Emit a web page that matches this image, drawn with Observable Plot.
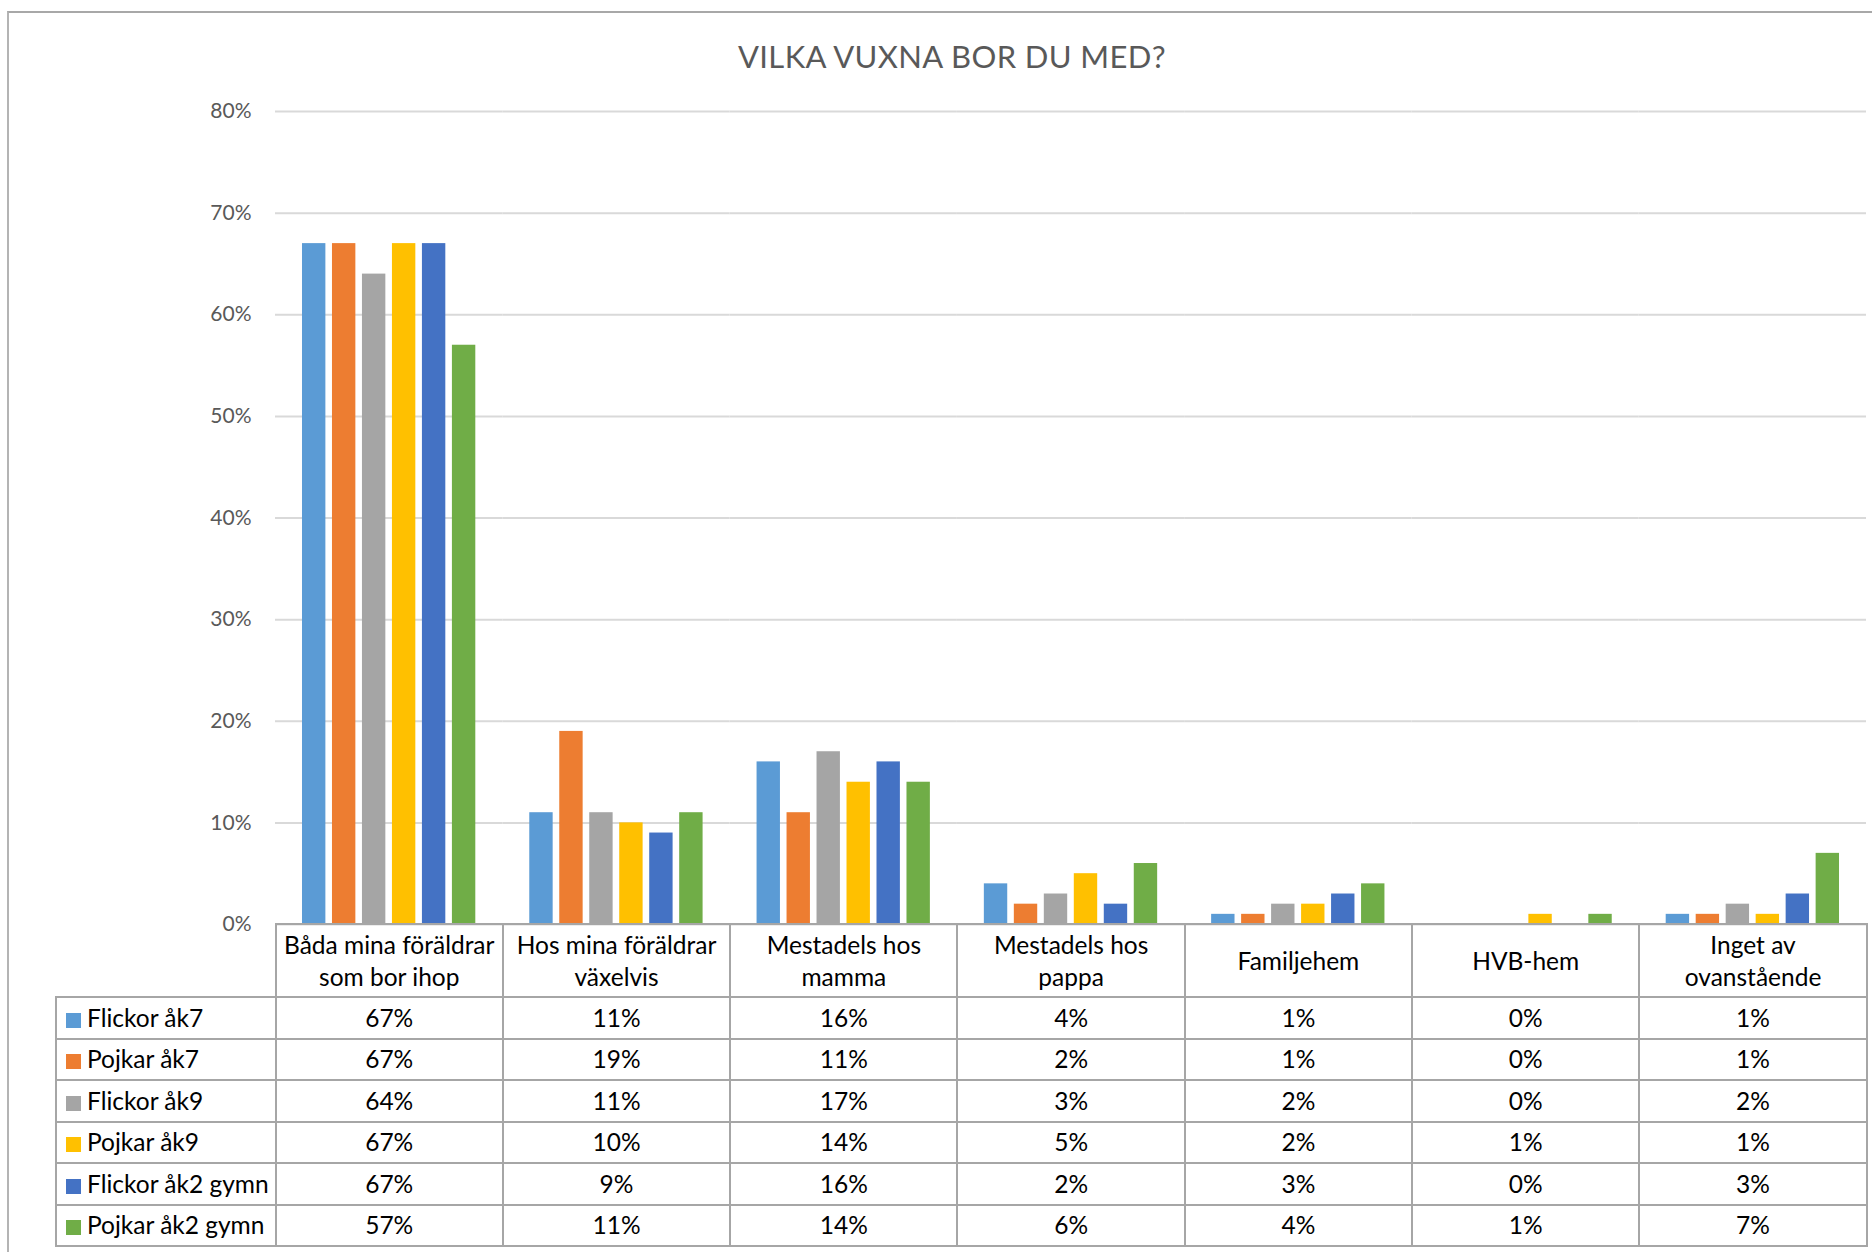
<!DOCTYPE html>
<html><head><meta charset="utf-8">
<script src="https://cdn.jsdelivr.net/npm/d3@7"></script>
<script src="https://cdn.jsdelivr.net/npm/@observablehq/plot@0.6"></script>
<style>
html,body{margin:0;padding:0;background:#fff;overflow:hidden;width:1872px;height:1252px;}
#frame{position:absolute;left:7px;top:11px;width:1900px;height:1300px;border-left:2px solid #B4B4B4;border-top:2px solid #A8A8A8;box-sizing:border-box;}
#title{position:absolute;left:552px;width:800px;top:36px;text-align:center;font-family:Lato,"Open Sans",sans-serif;font-size:31px;letter-spacing:0.4px;color:#595959;line-height:40px;}
#chart{position:absolute;left:0;top:90px;}
#tbl{position:absolute;left:55px;top:923px;border-collapse:collapse;table-layout:fixed;width:1811px;font-family:Lato,"Open Sans",sans-serif;font-size:24.5px;color:#000;}
#tbl td,#tbl th{border:2px solid #A6A6A6;padding:0;text-align:center;font-weight:normal;}
#tbl th{height:71px;line-height:32px;}
#tbl td{height:39.5px;line-height:24px;}
#tbl th.blank{border:none;}
#tbl td.leg{text-align:left;padding-left:9px;white-space:nowrap;}
.sw{display:inline-block;width:15px;height:15px;margin-right:6px;vertical-align:-1px;}
</style>
</head><body>
<div id="frame"></div>
<div id="title">VILKA VUXNA BOR DU MED?</div>
<div id="chart"></div>
<table id="tbl"></table>
<script>
const categories = [
  "Båda mina föräldrar\nsom bor ihop",
  "Hos mina föräldrar\nväxelvis",
  "Mestadels hos\nmamma",
  "Mestadels hos\npappa",
  "Familjehem",
  "HVB-hem",
  "Inget av\novanstående"
];
const series = ["Flickor åk7","Pojkar åk7","Flickor åk9","Pojkar åk9","Flickor åk2 gymn","Pojkar åk2 gymn"];
const colors = ["#5B9BD5","#ED7D31","#A5A5A5","#FFC000","#4472C4","#70AD47"];
const flickorAk7 = [67,11,16,4,1,0,1];
const pojkarAk7 = [67,19,11,2,1,0,1];
const flickorAk9 = [64,11,17,3,2,0,2];
const pojkarAk9 = [67,10,14,5,2,1,1];
const flickorAk2 = [67,9,16,2,3,0,3];
const pojkarAk2 = [57,11,14,6,4,1,7];
const yTicks = [0,0.1,0.2,0.3,0.4,0.5,0.6,0.7,0.8];

const values = [flickorAk7,pojkarAk7,flickorAk9,pojkarAk9,flickorAk2,pojkarAk2];
const data = [];
series.forEach((s,i)=>categories.forEach((c,j)=>data.push({series:s,category:c,value:values[i][j]/100})));

const fmt = d3.format(".0%");
const chart = Plot.plot({
  width:1872, height:862,
  marginLeft:275, marginRight:6, marginTop:21, marginBottom:28,
  style:{fontFamily:"Lato, 'Open Sans', sans-serif", fontSize:"21px", color:"#595959", background:"transparent"},
  fx:{domain:categories, padding:0, axis:null, round:false},
  x:{domain:series, axis:null, paddingInner:0.22, paddingOuter:0.9, round:false},
  y:{domain:[0,0.8], axis:null},
  color:{domain:series, range:colors},
  marks:[
    Plot.gridY(yTicks,{stroke:"#D9D9D9", strokeOpacity:1, strokeWidth:2}),
    Plot.axisY(yTicks,{tickFormat:fmt, tickSize:0, tickPadding:24, label:null, fontSize:21}),
    Plot.barY(data,{fx:"category", x:"series", y:"value", fill:"series"})
  ]
});
document.getElementById("chart").appendChild(chart);

const tbl = d3.select("#tbl");
const cg = tbl.append("colgroup");
cg.append("col").style("width","219.6px");
categories.forEach(()=>cg.append("col").style("width","227.3px"));
const hr = tbl.append("thead").append("tr");
hr.append("th").attr("class","blank");
categories.forEach(c=>{
  const th = hr.append("th");
  c.split("\n").forEach((line,k)=>{ if(k) th.append("br"); th.append("span").text(line); });
});
const tb = tbl.append("tbody");
series.forEach((s,i)=>{
  const tr = tb.append("tr");
  const lg = tr.append("td").attr("class","leg");
  lg.append("span").attr("class","sw").style("background",colors[i]);
  lg.append("span").text(s);
  values[i].forEach(v=>tr.append("td").text(v+"%"));
});
</script>
</body></html>
